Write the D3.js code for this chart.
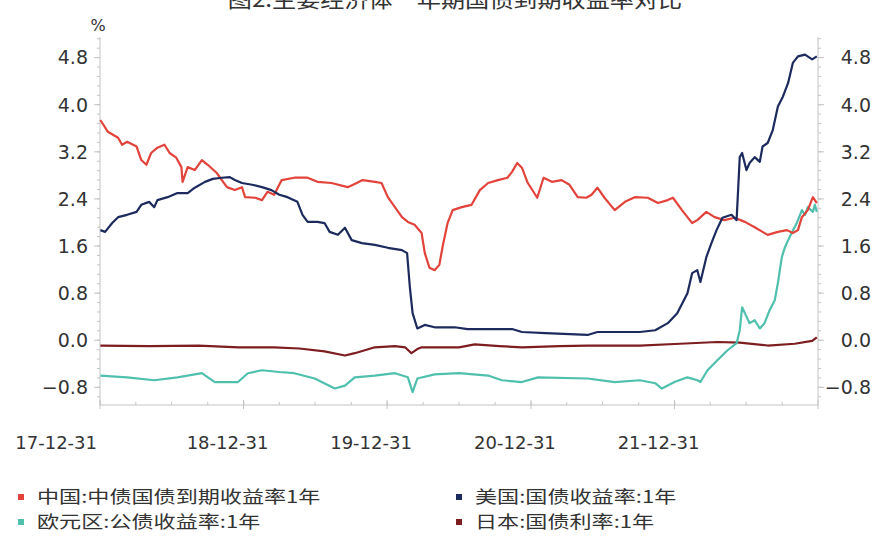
<!DOCTYPE html>
<html><head><meta charset="utf-8">
<script src="https://cdn.jsdelivr.net/npm/d3@7"></script>
<style>
body{margin:0;background:#fff;}
svg{display:block;}
text{font-family:"DejaVu Sans","Noto Sans CJK SC",sans-serif;fill:#333;}
.cjk{font-family:"Noto Sans CJK SC","DejaVu Sans",sans-serif;}
</style></head><body>
<svg id="c" width="889" height="538"></svg>
<script>
const chartTitle = "图2:主要经济体一年期国债到期收益率对比";
const yUnit = "%";
const xTickDates = ["2017-12-31","2018-12-31","2019-12-31","2020-12-31","2021-12-31"];
const xTickLabels = ["17-12-31","18-12-31","19-12-31","20-12-31","21-12-31"];
const yTickValues = [-0.8,0.0,0.8,1.6,2.4,3.2,4.0,4.8];
const seriesNames = ["中国:中债国债到期收益率1年","美国:国债收益率:1年","欧元区:公债收益率:1年","日本:国债利率:1年"];
const seriesColors = ["#e2433a","#1c2a5e","#4fbfae","#7d1d1f"];

const chinaYield = [
["2018-01-01",3.74],["2018-01-20",3.54],["2018-02-15",3.44],["2018-02-25",3.32],["2018-03-10",3.37],
["2018-04-03",3.29],["2018-04-15",3.06],["2018-04-28",2.98],["2018-05-10",3.18],["2018-05-26",3.27],
["2018-06-13",3.32],["2018-06-26",3.18],["2018-07-13",3.10],["2018-07-26",2.94],["2018-07-29",2.69],
["2018-08-11",2.94],["2018-08-29",2.89],["2018-09-16",3.06],["2018-10-01",2.98],["2018-10-24",2.84],
["2018-11-09",2.69],["2018-11-19",2.60],["2018-12-09",2.55],["2018-12-27",2.60],["2019-01-04",2.43],
["2019-01-30",2.42],["2019-02-16",2.38],["2019-03-02",2.52],["2019-03-19",2.47],["2019-04-07",2.72],
["2019-05-09",2.76],["2019-06-12",2.76],["2019-07-07",2.69],["2019-08-12",2.67],["2019-09-22",2.60],
["2019-10-15",2.67],["2019-10-30",2.72],["2019-11-30",2.69],["2019-12-17",2.67],["2020-01-02",2.43],
["2020-01-20",2.26],["2020-02-07",2.09],["2020-02-22",2.01],["2020-03-10",1.96],["2020-03-28",1.82],
["2020-04-05",1.48],["2020-04-17",1.23],["2020-04-30",1.19],["2020-05-12",1.28],["2020-05-20",1.58],
["2020-06-02",1.99],["2020-06-15",2.21],["2020-07-08",2.26],["2020-08-02",2.30],["2020-08-23",2.55],
["2020-09-13",2.67],["2020-10-08",2.72],["2020-11-01",2.76],["2020-11-13",2.86],["2020-11-26",3.01],
["2020-12-08",2.93],["2020-12-23",2.67],["2021-01-16",2.42],["2021-02-01",2.76],["2021-02-22",2.69],
["2021-03-19",2.72],["2021-04-08",2.64],["2021-04-29",2.43],["2021-05-21",2.42],["2021-06-03",2.47],
["2021-06-18",2.59],["2021-07-06",2.42],["2021-08-01",2.21],["2021-08-27",2.35],["2021-09-21",2.43],
["2021-10-24",2.42],["2021-11-19",2.33],["2021-12-14",2.38],["2021-12-27",2.42],["2022-01-19",2.21],
["2022-02-14",1.99],["2022-02-27",2.04],["2022-03-22",2.18],["2022-04-12",2.09],["2022-05-07",2.04],
["2022-06-02",2.08],["2022-06-28",2.01],["2022-07-23",1.92],["2022-08-12",1.84],["2022-08-25",1.79],
["2022-09-20",1.84],["2022-10-13",1.87],["2022-10-28",1.82],["2022-11-10",1.87],["2022-11-20",2.09],
["2022-12-05",2.21],["2022-12-18",2.43],["2022-12-28",2.33]
];

const usYield = [
["2018-01-01",1.87],["2018-01-13",1.84],["2018-01-31",1.99],["2018-02-15",2.09],["2018-03-10",2.13],
["2018-04-03",2.18],["2018-04-15",2.30],["2018-05-05",2.35],["2018-05-18",2.26],["2018-05-26",2.38],
["2018-06-21",2.43],["2018-07-16",2.50],["2018-08-11",2.50],["2018-08-29",2.59],["2018-09-24",2.69],
["2018-10-14",2.74],["2018-11-06",2.76],["2018-11-26",2.77],["2018-12-09",2.72],["2018-12-27",2.67],
["2019-01-22",2.64],["2019-02-16",2.60],["2019-03-12",2.55],["2019-04-01",2.47],["2019-04-22",2.43],
["2019-05-17",2.35],["2019-05-30",2.13],["2019-06-12",2.01],["2019-07-07",2.01],["2019-07-25",1.99],
["2019-08-07",1.84],["2019-08-28",1.79],["2019-09-15",1.91],["2019-10-02",1.70],["2019-10-28",1.65],
["2019-11-30",1.62],["2020-01-02",1.57],["2020-02-07",1.53],["2020-02-20",1.48],["2020-02-27",0.90],
["2020-03-05",0.46],["2020-03-17",0.20],["2020-04-05",0.26],["2020-04-30",0.22],["2020-06-20",0.22],
["2020-07-23",0.19],["2020-11-13",0.19],["2020-12-08",0.14],["2021-02-06",0.12],["2021-05-24",0.09],
["2021-06-18",0.14],["2021-10-04",0.14],["2021-11-12",0.17],["2021-12-14",0.29],["2022-01-07",0.46],
["2022-02-02",0.80],["2022-02-14",1.14],["2022-02-27",1.19],["2022-03-07",0.99],["2022-03-22",1.41],
["2022-04-04",1.65],["2022-04-17",1.87],["2022-05-02",2.08],["2022-05-25",2.13],["2022-06-07",2.04],
["2022-06-15",3.11],["2022-06-21",3.18],["2022-07-02",2.89],["2022-07-10",3.01],["2022-07-23",3.11],
["2022-08-05",3.03],["2022-08-12",3.29],["2022-08-25",3.35],["2022-09-07",3.57],["2022-09-20",3.97],
["2022-10-03",4.14],["2022-10-16",4.37],["2022-10-28",4.71],["2022-11-10",4.82],["2022-11-28",4.85],
["2022-12-16",4.77],["2022-12-28",4.82]
];

const euroYield = [
["2018-01-01",-0.60],["2018-03-10",-0.63],["2018-05-18",-0.68],["2018-07-16",-0.63],["2018-09-16",-0.56],
["2018-10-19",-0.71],["2018-12-17",-0.71],["2019-01-11",-0.56],["2019-02-16",-0.51],["2019-04-01",-0.54],
["2019-05-09",-0.56],["2019-06-30",-0.65],["2019-08-20",-0.82],["2019-09-15",-0.77],["2019-10-10",-0.63],
["2019-11-30",-0.60],["2020-01-20",-0.56],["2020-02-22",-0.63],["2020-03-05",-0.88],["2020-03-17",-0.65],
["2020-04-30",-0.58],["2020-07-01",-0.56],["2020-09-13",-0.60],["2020-10-18",-0.68],["2020-12-08",-0.71],
["2021-01-18",-0.63],["2021-05-24",-0.65],["2021-08-01",-0.71],["2021-10-04",-0.68],["2021-11-12",-0.73],
["2021-11-29",-0.82],["2021-12-31",-0.71],["2022-02-02",-0.63],["2022-02-27",-0.68],["2022-03-07",-0.71],
["2022-03-25",-0.51],["2022-04-19",-0.34],["2022-05-15",-0.17],["2022-06-07",-0.05],["2022-06-15",0.17],
["2022-06-21",0.56],["2022-06-28",0.46],["2022-07-10",0.29],["2022-07-23",0.34],["2022-08-05",0.20],
["2022-08-17",0.29],["2022-08-30",0.51],["2022-09-12",0.68],["2022-09-20",0.97],["2022-09-30",1.41],
["2022-10-08",1.58],["2022-10-16",1.70],["2022-10-25",1.82],["2022-11-07",1.99],["2022-11-20",2.21],
["2022-11-28",2.13],["2022-12-05",2.26],["2022-12-18",2.18],["2022-12-23",2.30],["2022-12-28",2.18]
];

const japanYield = [
["2018-01-01",-0.09],["2018-05-05",-0.10],["2018-09-08",-0.09],["2018-12-19",-0.12],["2019-03-19",-0.12],
["2019-05-22",-0.14],["2019-07-25",-0.19],["2019-09-15",-0.26],["2019-10-10",-0.22],["2019-11-30",-0.12],
["2020-01-20",-0.10],["2020-02-15",-0.12],["2020-03-02",-0.22],["2020-03-17",-0.15],["2020-03-28",-0.12],
["2020-07-01",-0.12],["2020-08-10",-0.07],["2020-10-12",-0.10],["2020-12-08",-0.12],["2021-03-14",-0.10],
["2021-05-24",-0.09],["2021-10-04",-0.09],["2022-01-14",-0.06],["2022-04-19",-0.03],["2022-06-15",-0.04],
["2022-08-25",-0.09],["2022-11-02",-0.06],["2022-12-16",-0.01],["2022-12-28",0.05]
];

const seriesData = [chinaYield, usYield, euroYield, japanYield];

const svg = d3.select("#c");
const parse = d3.timeParse("%Y-%m-%d");
const pLeft = 100, pRight = 818, pTop = 37, pBottom = 405;
const x = d3.scaleTime().domain([parse("2017-12-31"), parse("2022-12-31")]).range([pLeft, pRight]);
const y = d3.scaleLinear().domain([-1.1, 5.15]).range([pBottom, pTop]);

svg.append("text").attr("class","cjk").attr("transform","translate(455,7) scale(1.15,1)")
  .attr("text-anchor","middle").attr("font-size",21).attr("fill","#444").text(chartTitle);

const axisColor = "#c4c4c4";
svg.append("line").attr("x1",pLeft).attr("x2",pLeft).attr("y1",pTop).attr("y2",pBottom).attr("stroke",axisColor);
svg.append("line").attr("x1",pRight).attr("x2",pRight).attr("y1",pTop).attr("y2",pBottom).attr("stroke",axisColor);
svg.append("line").attr("x1",pLeft).attr("x2",pRight).attr("y1",pBottom).attr("y2",pBottom).attr("stroke",axisColor);

const minor = d3.range(-1.12, 5.15, 0.16).filter(v => v >= -1.1 && v <= 5.15);
svg.append("g").selectAll("line").data(minor).join("line")
  .attr("x1",pLeft-3).attr("x2",pLeft).attr("y1",d=>y(d)).attr("y2",d=>y(d)).attr("stroke",axisColor);
svg.append("g").selectAll("line").data(minor).join("line")
  .attr("x1",pRight).attr("x2",pRight+3).attr("y1",d=>y(d)).attr("y2",d=>y(d)).attr("stroke",axisColor);
svg.append("g").selectAll("line").data(yTickValues).join("line")
  .attr("x1",pLeft-6).attr("x2",pLeft).attr("y1",d=>y(d)).attr("y2",d=>y(d)).attr("stroke",axisColor);
svg.append("g").selectAll("line").data(yTickValues).join("line")
  .attr("x1",pRight).attr("x2",pRight+6).attr("y1",d=>y(d)).attr("y2",d=>y(d)).attr("stroke",axisColor);

const fmt = d3.format(".1f");
svg.append("g").selectAll("text").data(yTickValues).join("text")
  .attr("x",88).attr("y",d=>y(d))
  .attr("dy","0.36em").attr("text-anchor","end").attr("font-size",19).text(d=>fmt(d));
svg.append("g").selectAll("text").data(yTickValues).join("text")
  .attr("x",871).attr("y",d=>y(d))
  .attr("dy","0.36em").attr("text-anchor","end").attr("font-size",19).text(d=>fmt(d));
svg.append("text").attr("x",98).attr("y",31).attr("text-anchor","middle")
  .attr("font-size",16).text(yUnit);

const xMinor = d3.timeMonth.every(3).range(parse("2018-01-01"), parse("2022-12-31"));
svg.append("g").selectAll("line").data(xMinor).join("line")
  .attr("x1",d=>x(d)).attr("x2",d=>x(d)).attr("y1",pBottom-3).attr("y2",pBottom).attr("stroke",axisColor);
svg.append("g").selectAll("line").data(xTickDates.concat(["2022-12-31"])).join("line")
  .attr("x1",d=>x(parse(d))).attr("x2",d=>x(parse(d))).attr("y1",pBottom-5).attr("y2",pBottom+4).attr("stroke",axisColor);
svg.append("g").selectAll("text").data(xTickDates).join("text")
  .attr("x",(d,i)=> i===0 ? x(parse(d))-3 : x(parse(d))-16)
  .attr("text-anchor",(d,i)=> i===0 ? "end" : "middle")
  .attr("y",449).attr("font-size",18).text((d,i)=>xTickLabels[i]);

const line = d3.line().x(d=>x(parse(d[0]))).y(d=>y(d[1]));
const drawOrder = [3,2,0,1];
drawOrder.forEach(i=>{
  svg.append("path").datum(seriesData[i]).attr("d",line).attr("fill","none")
    .attr("stroke",seriesColors[i]).attr("stroke-width",2.2).attr("stroke-linejoin","round");
});

const legendPos = [[18,497],[456,497],[18,522],[456,522]];
seriesNames.forEach((n,i)=>{
  const [lx,ly] = legendPos[i];
  svg.append("rect").attr("x",lx).attr("y",ly-3).attr("width",6).attr("height",6).attr("fill",seriesColors[i]);
  svg.append("text").attr("class","cjk").attr("transform",`translate(${lx+19},${ly}) scale(1.3,1)`)
    .attr("dy","0.36em").attr("font-size",17).text(n);
});
</script>
</body></html>
